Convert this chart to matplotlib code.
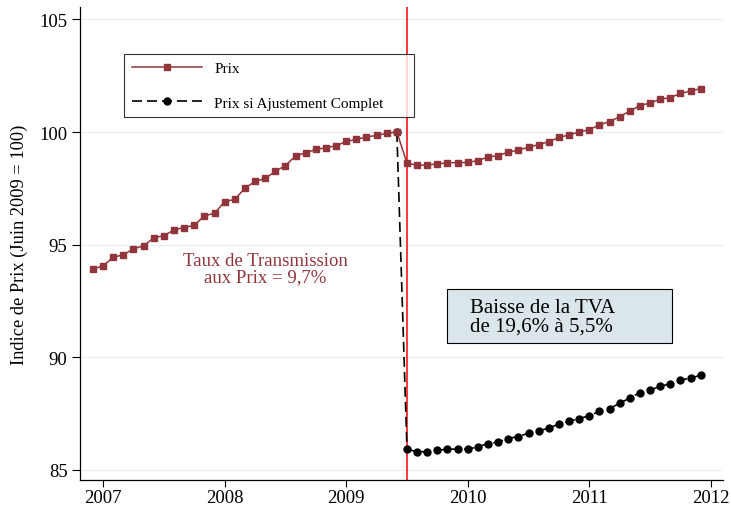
import numpy as np
import matplotlib
matplotlib.use("Agg")
import matplotlib.pyplot as plt
from matplotlib.patches import Rectangle

plt.rcParams['font.family'] = ['Liberation Serif', 'DejaVu Serif']

# indice mensuel, dec. 2006 -> dec. 2011
prix = [93.91, 94.06, 94.44, 94.55, 94.81, 94.95, 95.30, 95.40, 95.65, 95.76,
        95.86, 96.28, 96.39, 96.91, 97.01, 97.50, 97.81, 97.94, 98.25, 98.51,
        98.94, 99.07, 99.23, 99.30, 99.39, 99.58, 99.67, 99.78, 99.85, 99.94,
        100.00, 98.62, 98.52, 98.54, 98.58, 98.64, 98.64, 98.65, 98.73, 98.89,
        98.95, 99.11, 99.19, 99.33, 99.44, 99.57, 99.76, 99.87, 100.00, 100.10,
        100.32, 100.46, 100.68, 100.93, 101.17, 101.29, 101.45, 101.53, 101.71,
        101.82, 101.93]
# ajustement complet, juin 2009 -> dec. 2011
ajust = [100.00, 85.92, 85.80, 85.81, 85.87, 85.92, 85.92, 85.92, 86.02, 86.17,
         86.23, 86.39, 86.48, 86.63, 86.73, 86.85, 87.04, 87.15, 87.28, 87.40,
         87.60, 87.72, 87.96, 88.19, 88.43, 88.53, 88.72, 88.81, 88.98, 89.08,
         89.20]
debut_prix = 2006 + 11 / 12.0
debut_ajust = 2009 + 5 / 12.0
date_baisse = 2009.5
yticks = [85, 90, 95, 100, 105]
xticks = [2007, 2008, 2009, 2010, 2011, 2012]

CRAN = '#90353b'

t_prix = debut_prix + np.arange(len(prix)) / 12.0
t_ajust = debut_ajust + np.arange(len(ajust)) / 12.0

fig = plt.figure(figsize=(7.31, 5.10), dpi=100)
ax = fig.add_axes([80 / 731, 29 / 510, 643 / 731, 473 / 510])

for y in yticks:
    ax.axhline(y, color='#e4edf0', lw=0.8, zorder=0)

ax.axvline(date_baisse, color='#ff0000', lw=1.1, zorder=1)

ax.plot(t_ajust, ajust, color='black', lw=1.2, ls=(0, (6, 3)),
        marker='o', ms=5, mfc='black', mec='black', zorder=2,
        label='Prix si Ajustement Complet')
ax.plot(t_prix, prix, color=CRAN, lw=1.1, marker='s', ms=4.8,
        mfc=CRAN, mec=CRAN, zorder=3, label='Prix')

ax.set_xlim(2006.81, 2012.1)
ax.set_ylim(84.55, 105.55)
ax.set_xticks(xticks)
ax.set_yticks(yticks)
ax.tick_params(axis='both', labelsize=13.5, width=0.8, direction='out')
ax.tick_params(axis='y', pad=3, length=6)
ax.tick_params(axis='x', pad=1.5, length=5)
for s in ['top', 'right']:
    ax.spines[s].set_visible(False)
for s in ['left', 'bottom']:
    ax.spines[s].set_linewidth(0.9)

ax.set_ylabel('Indice de Prix (Juin 2009 = 100)', fontsize=13.2, labelpad=8)

h, l = ax.get_legend_handles_labels()
leg = fig.legend([h[1], h[0]], [l[1], l[0]], loc='upper left',
                 bbox_to_anchor=(124 / 731, 1 - 55 / 510 - 0.15, 290 / 731, 0.15),
                 mode='expand', borderaxespad=0, frameon=True, fancybox=False,
                 edgecolor='black', fontsize=11, handlelength=4.6,
                 handletextpad=0.8, labelspacing=1.35, borderpad=0.5)
leg.get_frame().set_linewidth(0.8)

ax.text(2008.336, 93.94, 'Taux de Transmission\naux Prix = 9,7%', color=CRAN,
        fontsize=13.5, ha='center', va='center', linespacing=0.95)

ax.add_patch(Rectangle((2009.833, 90.65), 1.85, 2.37, facecolor='#dbe6eb',
                       edgecolor='black', lw=0.8, zorder=4))
ax.text(2010.017, 91.80, 'Baisse de la TVA\nde 19,6% à 5,5%', fontsize=15,
        ha='left', va='center', linespacing=0.95, zorder=5)

fig.savefig('out.png', dpi=100)
